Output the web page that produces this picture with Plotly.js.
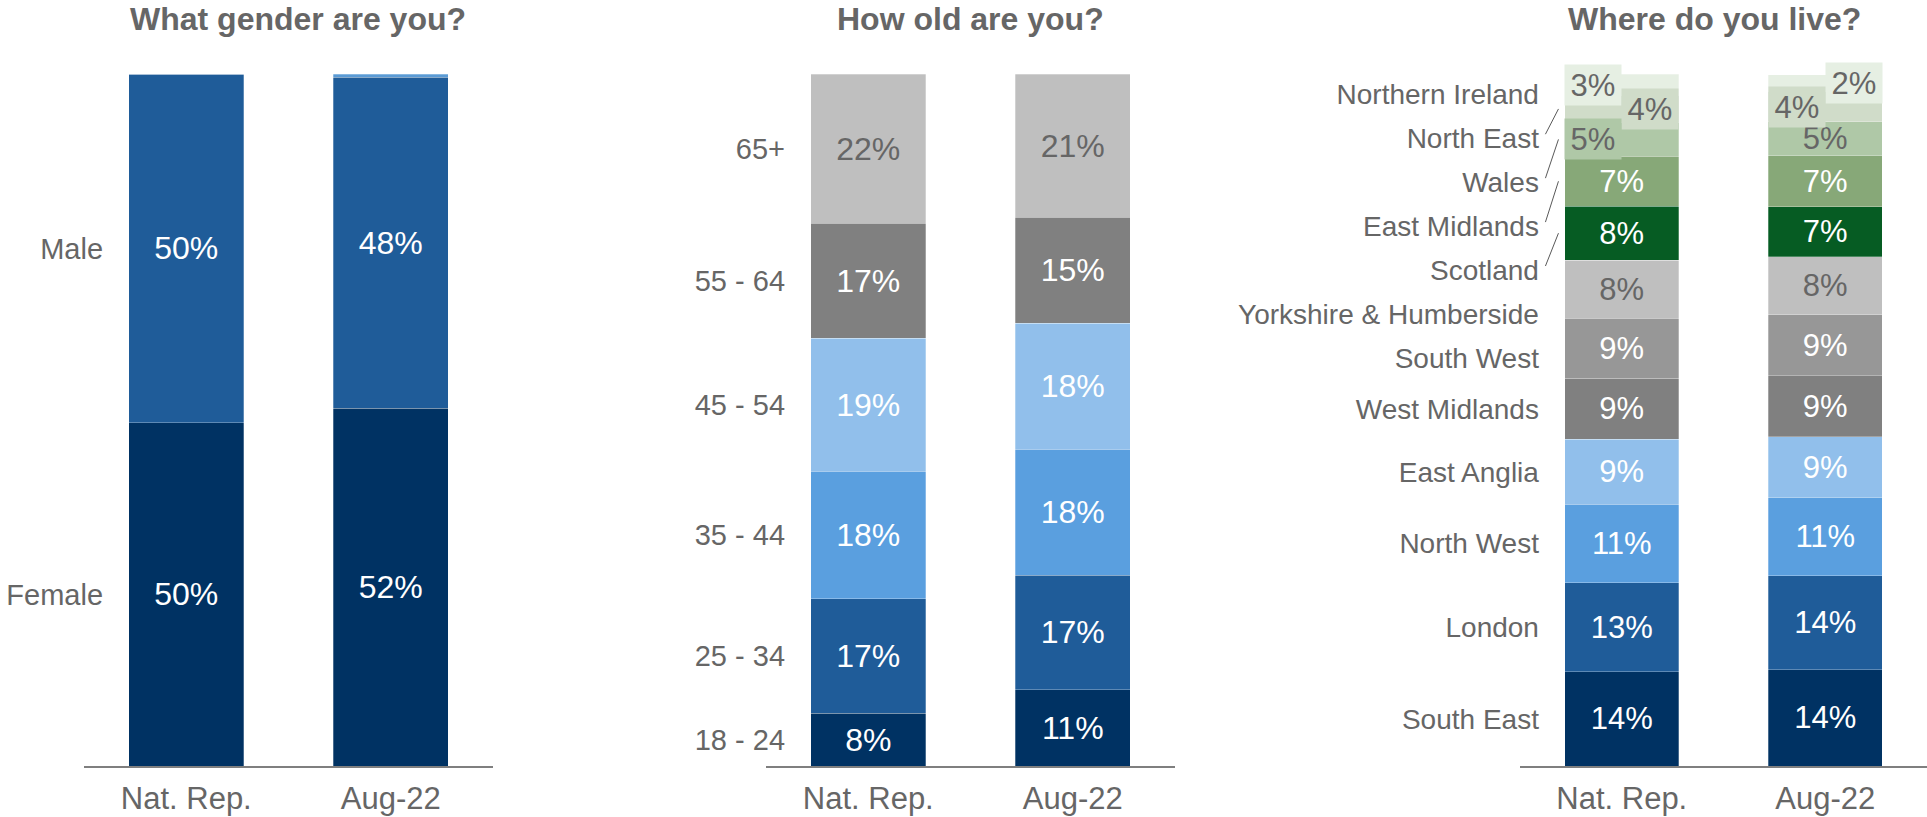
<!DOCTYPE html>
<html><head><meta charset="utf-8">
<script src="https://cdn.plot.ly/plotly-3.0.1.min.js"></script>
<style>html,body{margin:0;padding:0;background:#fff}#chart{width:1927px;height:817px}</style>
</head><body><div id="chart"></div>
<script>
// ---------- DATA ----------
const groups = ['Nat. Rep.', 'Aug-22'];

const genderCats = ['Female', 'Male', 'Other'];
const genderNat = [49.6, 50.4, 0];
const genderAug = [51.7, 47.8, 0.5];

const ageCats = ['18 - 24', '25 - 34', '35 - 44', '45 - 54', '55 - 64', '65+'];
const ageNat = [7.6, 16.6, 18.4, 19.2, 16.6, 21.6];
const ageAug = [11.0, 16.6, 18.2, 18.2, 15.3, 20.7];

const regionCats = ['South East', 'London', 'North West', 'East Anglia', 'West Midlands', 'South West',
  'Yorkshire & Humberside', 'Scotland', 'East Midlands', 'Wales', 'North East', 'Northern Ireland'];
const regionNat = [13.6, 12.9, 11.3, 9.4, 8.8, 8.7, 8.4, 7.8, 7.2, 4.9, 3.9, 3.1];
const regionAug = [13.9, 13.6, 11.3, 8.8, 8.8, 8.8, 8.4, 7.2, 7.4, 4.9, 4.4, 2.4];

const titles = ['What gender are you?', 'How old are you?', 'Where do you live?'];

// ---------- STYLE ----------
const W = 1927;
const FONT = 'Liberation Sans, Arial, sans-serif';
const GREY = '#666666';
const WHITE = '#ffffff';
const genderColors = ['#003263', '#1f5c99', '#5b9bd5'];
const genderText = [WHITE, WHITE, WHITE];
const ageColors = ['#003263', '#1f5c99', '#5a9fdf', '#91bfeb', '#808080', '#bfbfbf'];
const ageText = [WHITE, WHITE, WHITE, WHITE, WHITE, GREY];
const regionColors = ['#003263', '#1f5c99', '#5a9fdf', '#91bfeb', '#808080', '#979797', '#bfbfbf',
  '#065c23', '#87a878', '#afc8a7', '#d0dcc9', '#e6efe3'];
const regionText = [WHITE, WHITE, WHITE, WHITE, WHITE, WHITE, GREY, WHITE, WHITE, GREY, GREY, GREY];

const domains = [[84 / W, 493 / W], [766 / W, 1175 / W], [1520 / W, 1]];
const barWidth = 0.56;
const labelEdge = -0.407;     // right edge of category labels, in x units
const labelPad = 0;           // px
// manual spreading of the crowded region labels (layout)
const spreadStart = 5, spreadFrom = 59.0, spreadStep = 6.35;
// region labels moved sideways (layout)
const nudges = [
  {g: 0, r: 11, dx: -0.14}, {g: 0, r: 10, dx: 0.14}, {g: 0, r: 9, dx: -0.14},
  {g: 1, r: 11, dx: 0.14}, {g: 1, r: 10, dx: -0.14}
];
const leaderRegions = [10, 9, 8, 7];

function centers(vals) {
  let c = 0; return vals.map(v => { const m = c + v / 2; c += v; return m; });
}
function pct(v) { return Math.round(v) + '%'; }

const traces = [];
function addPanel(k, cats, nat, aug, colors, textColors, fontSize, skip) {
  const ax = k === 0 ? '' : String(k + 1);
  cats.forEach((c, i) => {
    const txt = [nat[i], aug[i]].map((v, g) => {
      if (v < 1) return '';
      if (skip && skip.some(s => s.g === g && s.r === i)) return '';
      return pct(v);
    });
    traces.push({
      type: 'bar', name: c, x: groups, y: [nat[i], aug[i]],
      xaxis: 'x' + ax, yaxis: 'y' + ax, width: barWidth,
      marker: {color: colors[i], line: {color: 'rgba(255,255,255,0.35)', width: 0.8}},
      text: txt, textposition: 'inside', insidetextanchor: 'middle', textangle: 0,
      constraintext: 'none', cliponaxis: false,
      textfont: {family: FONT, size: fontSize, color: textColors[i]},
      hoverinfo: 'skip', showlegend: false
    });
  });
}
addPanel(0, genderCats, genderNat, genderAug, genderColors, genderText, 32);
addPanel(1, ageCats, ageNat, ageAug, ageColors, ageText, 32);
addPanel(2, regionCats, regionNat, regionAug, regionColors, regionText, 31, nudges);

const gC = centers(genderNat), aC = centers(ageNat), rC = centers(regionNat), rCA = centers(regionAug);
const rLabelY = rC.map((c, i) => i < spreadStart ? c : spreadFrom + (i - spreadStart) * spreadStep);

const layout = {
  width: 1927, height: 817, margin: {l: 0, r: 0, t: 74, b: 51},
  paper_bgcolor: '#fff', plot_bgcolor: 'rgba(0,0,0,0)',
  barmode: 'stack', showlegend: false,
  font: {family: FONT, color: GREY},
  annotations: [], shapes: []
};

function yPos(d) {
  return d[0] + (labelEdge + 0.5) / 2 * (d[1] - d[0]) + labelPad / W;
}
const ticks = [
  {vals: gC.slice(0, 2), text: genderCats.slice(0, 2), size: 29},
  {vals: aC, text: ageCats, size: 29},
  {vals: rLabelY, text: regionCats, size: 28}
];
for (let k = 0; k < 3; k++) {
  const ax = k === 0 ? '' : String(k + 1);
  layout['xaxis' + ax] = {
    domain: domains[k], range: [-0.5, 1.5], anchor: 'y' + ax, type: 'category',
    showline: true, linecolor: '#7f7f7f', linewidth: 2, showgrid: false, zeroline: false,
    ticks: 'outside', ticklen: 4, tickcolor: 'rgba(0,0,0,0)',
    tickfont: {family: FONT, size: 31, color: GREY}, fixedrange: true
  };
  layout['yaxis' + ax] = {
    domain: [0, 1], range: [0, 100], anchor: 'free', position: yPos(domains[k]),
    showline: false, showgrid: false, zeroline: false, ticks: '',
    tickmode: 'array', tickvals: ticks[k].vals, ticktext: ticks[k].text,
    tickfont: {family: FONT, size: ticks[k].size, color: GREY}, fixedrange: true
  };
  layout.annotations.push({
    xref: 'paper', yref: 'paper', x: (domains[k][0] + domains[k][1]) / 2, y: 1,
    xshift: k === 0 ? 9 : (k === 2 ? -9 : 0), yshift: 55, yanchor: 'middle', xanchor: 'center',
    text: '<b>' + titles[k] + '</b>', showarrow: false,
    font: {family: FONT, size: 32, color: GREY}
  });
}

// nudged region labels with coloured boxes
nudges.forEach(n => {
  const vals = n.g === 0 ? regionNat : regionAug;
  const cen = n.g === 0 ? rC : rCA;
  layout.annotations.push({
    xref: 'x3', yref: 'y3', x: n.g + n.dx, y: cen[n.r], text: pct(vals[n.r]),
    showarrow: false, xanchor: 'center', yanchor: 'middle',
    width: 56, height: 40, borderpad: 0, bgcolor: regionColors[n.r],
    font: {family: FONT, size: 31, color: regionText[n.r]}
  });
});

// leader lines from spread labels to their segments
leaderRegions.forEach(r => {
  layout.shapes.push({
    type: 'line', xref: 'x3', yref: 'y3',
    x0: -0.375, y0: rLabelY[r] + 0.55, x1: -0.311, y1: rC[r],
    line: {color: '#595959', width: 1}
  });
});

Plotly.newPlot('chart', traces, layout, {displayModeBar: false, staticPlot: true});
</script>
</body></html>
